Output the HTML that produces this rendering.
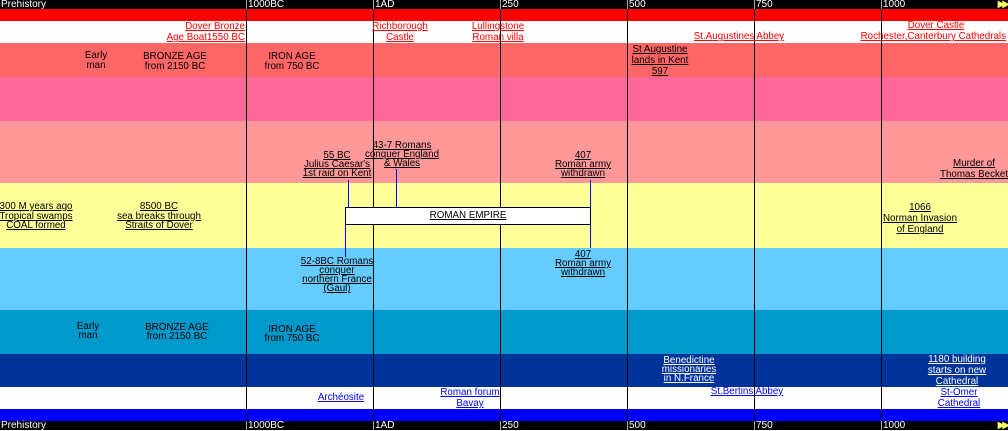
<!DOCTYPE html>
<html><head><meta charset="utf-8"><style>
body{margin:0;width:1008px;height:430px;position:relative;overflow:hidden;font-family:"Liberation Sans",sans-serif;font-size:9.8px;background:#fff}
.b{position:absolute;left:0;width:1008px}
.t{position:absolute;line-height:10px;text-align:center;white-space:nowrap;transform:translateX(-50%)}
.u{text-decoration:underline}
.v{position:absolute;width:1px;background:#000}
.hd{position:absolute;color:#fff;font-size:10px;line-height:9px}
.arr{position:absolute;right:1px;color:#ff6;font-size:10px;letter-spacing:-3px;line-height:9px}
</style></head><body>
<div class="b" style="top:0;height:9px;background:#000"></div>
<div class="b" style="top:9px;height:12px;background:#f00"></div>
<div class="b" style="top:21px;height:22px;background:#fff"></div>
<div class="b" style="top:43px;height:34px;background:#f66"></div>
<div class="b" style="top:77px;height:44px;background:#f69"></div>
<div class="b" style="top:121px;height:62px;background:#f99"></div>
<div class="b" style="top:183px;height:65px;background:#ff9"></div>
<div class="b" style="top:248px;height:62px;background:#6cf"></div>
<div class="b" style="top:310px;height:44px;background:#09c"></div>
<div class="b" style="top:354px;height:33px;background:#039"></div>
<div class="b" style="top:387px;height:22px;background:#fff"></div>
<div class="b" style="top:409px;height:12px;background:#00f"></div>
<div class="b" style="top:421px;height:9px;background:#000"></div>
<div class="hd" style="left:1px;top:0">Prehistory</div>
<div class="hd" style="left:1px;top:421px">Prehistory</div>
<div class="arr" style="top:0">▶▶</div>
<div class="arr" style="top:421px">▶▶</div>
<div id="lines"></div>

<div>
<div class="v" style="left:348px;top:180px;height:27px;background:#00f"></div>
<div class="v" style="left:396px;top:169px;height:38px;background:#00f"></div>
<div class="v" style="left:590px;top:180px;height:27px;background:#00f"></div>
<div class="v" style="left:590px;top:224px;height:24px;background:#00f"></div>
<div class="v" style="left:345px;top:224px;height:33px;background:#00f"></div>
</div>
<div style="position:absolute;left:345px;top:207px;width:244px;height:16px;background:#fff;border:1px solid #000;text-align:center;line-height:16px"><span class="u">ROMAN EMPIRE</span></div>

<div class="t u" style="left:0;transform:none;text-align:right;width:245px;top:21px;line-height:11px;color:#f00">Dover Bronze<br>Age Boat1550 BC</div>
<div class="t u" style="left:400px;top:21px;line-height:11px;color:#f00">Richborough<br>Castle</div>
<div class="t u" style="left:498px;top:21px;line-height:11px;color:#f00">Lullingstone<br>Roman villa</div>
<div class="t u" style="left:739px;top:32px;color:#f00">St.Augustines Abbey</div>
<div class="t u" style="left:936px;top:21px;color:#f00">Dover Castle</div>
<div class="t u" style="left:0;transform:none;width:1006px;text-align:right;top:32px;color:#f00">Rochester,Canterbury Cathedrals</div>

<div class="t" style="left:96px;top:51px">Early<br>man</div>
<div class="t" style="left:175px;top:52px">BRONZE AGE<br>from 2150 BC</div>
<div class="t" style="left:292px;top:52px">IRON AGE<br>from 750 BC</div>
<div class="t u" style="left:660px;top:44px;line-height:11px">St Augustine<br>lands in Kent<br>597</div>

<div class="t u" style="left:402px;top:141px;line-height:9px">43-7 Romans<br>conquer England<br>&amp; Wales</div>
<div class="t u" style="left:337px;top:151px;line-height:9px">55 BC<br>Julius Caesar's<br>1st raid on Kent</div>
<div class="t u" style="left:583px;top:151px;line-height:9px">407<br>Roman army<br>withdrawn</div>
<div class="t u" style="left:974px;top:158px;line-height:11px">Murder of<br>Thomas Becket</div>

<div class="t u" style="left:36px;top:202px;line-height:9.5px">300 M years ago<br>Tropical swamps<br>COAL formed</div>
<div class="t u" style="left:159px;top:202px;line-height:9.5px">8500 BC<br>sea breaks through<br>Straits of Dover</div>
<div class="t u" style="left:920px;top:202px;line-height:11px">1066<br>Norman Invasion<br>of England</div>

<div class="t u" style="left:337px;top:257px;line-height:9px">52-8BC Romans<br>conquer<br>northern France<br>(Gaul)</div>
<div class="t u" style="left:583px;top:250px;line-height:9px">407<br>Roman army<br>withdrawn</div>

<div class="t" style="left:88px;top:322px;line-height:9px">Early<br>man</div>
<div class="t" style="left:177px;top:323px;line-height:9px">BRONZE AGE<br>from 2150 BC</div>
<div class="t" style="left:292px;top:325px;line-height:9px">IRON AGE<br>from 750 BC</div>

<div class="t u" style="left:689px;top:356px;line-height:9px;color:#fff">Benedictine<br>missionaries<br>in N.France</div>
<div class="t u" style="left:957px;top:354px;line-height:11px;color:#fff">1180 building<br>starts on new<br>Cathedral</div>

<div class="t u" style="left:341px;top:393px;color:#00f">Archéosite</div>
<div class="t u" style="left:470px;top:387px;line-height:11px;color:#00f">Roman forum<br>Bavay</div>
<div class="t u" style="left:747px;top:387px;color:#00f">St.Bertins Abbey</div>
<div class="t u" style="left:959px;top:387px;line-height:11px;color:#00f">St-Omer<br>Cathedral</div>

<script>
const tickLabels=["1000BC","1AD","250","500","750","1000"];
const tickIndex=[0,1,2,3,4,5];
function xScale(i){return 246+i*127;}
const host=document.getElementById('lines');
tickIndex.forEach((ti,k)=>{
  const x=xScale(ti);
  const l=document.createElement('div');
  l.className='v';
  l.style.cssText='left:'+x+'px;top:9px;height:412px';
  
  
  host.appendChild(l);
  [0,421].forEach(y=>{
    const h=document.createElement('div');
    h.className='hd';
    h.style.cssText='left:'+x+'px;top:'+y+'px;border-left:1px solid #aaa;padding-left:1px';
    h.textContent=tickLabels[k];
    
    
    host.appendChild(h);
  });
});
</script>
</body></html>
